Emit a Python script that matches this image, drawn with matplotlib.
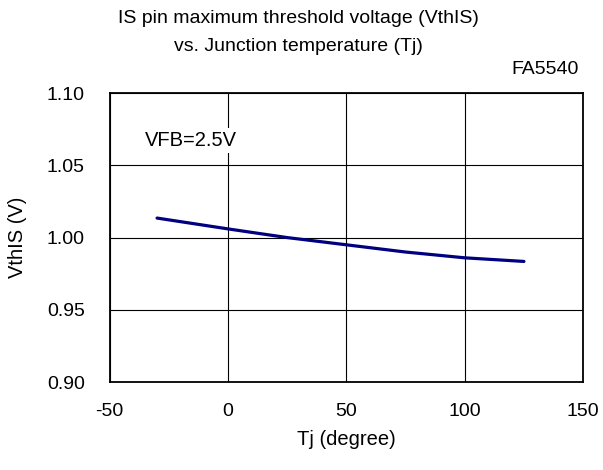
import matplotlib
matplotlib.use("Agg")
import matplotlib.pyplot as plt

plt.rcParams["font.family"] = ["Liberation Sans", "DejaVu Sans"]
plt.rcParams["axes.unicode_minus"] = False

# --- Data ---
tj = [-30, 0, 25, 50, 75, 100, 125]
vthis = [1.0135, 1.006, 1.000, 0.995, 0.990, 0.986, 0.9835]

xticks = [-50, 0, 50, 100, 150]
yticks = [0.90, 0.95, 1.00, 1.05, 1.10]

fig = plt.figure(figsize=(6.03, 4.70), dpi=100)
ax = fig.add_axes([0.182, 0.187, 0.785, 0.615])

ax.plot(tj, vthis, color="#000080", linewidth=2.3, solid_capstyle="round")

ax.set_xlim(-50, 150)
ax.set_ylim(0.90, 1.10)
ax.set_xticks(xticks)
ax.set_yticks(yticks)
ax.set_yticklabels([f"{v:.2f}" for v in yticks])
ax.grid(True, color="black", linewidth=0.8)
ax.tick_params(length=0, labelsize=14)
ax.tick_params(axis="x", pad=15)
ax.tick_params(axis="y", pad=18)
for s in ax.spines.values():
    s.set_linewidth(1.3)

ax.set_xlabel("Tj (degree)", fontsize=14.5, va="center")
ax.xaxis.set_label_coords(0.5, -0.20)
ax.set_ylabel("VthIS (V)", fontsize=14.5, va="center")
ax.yaxis.set_label_coords(-0.194, 0.5)

ax.text(-35, 1.067, "VFB=2.5V", fontsize=14.5, va="center", ha="left",
        bbox=dict(facecolor="white", edgecolor="none", pad=2))

fig.text(0.495, 0.960, "IS pin maximum threshold voltage (VthIS)", ha="center", va="center", fontsize=14)
fig.text(0.495, 0.901, "vs. Junction temperature (Tj)", ha="center", va="center", fontsize=14)
fig.text(0.959, 0.852, "FA5540", ha="right", va="center", fontsize=14)

fig.savefig("out.png", dpi=100)
